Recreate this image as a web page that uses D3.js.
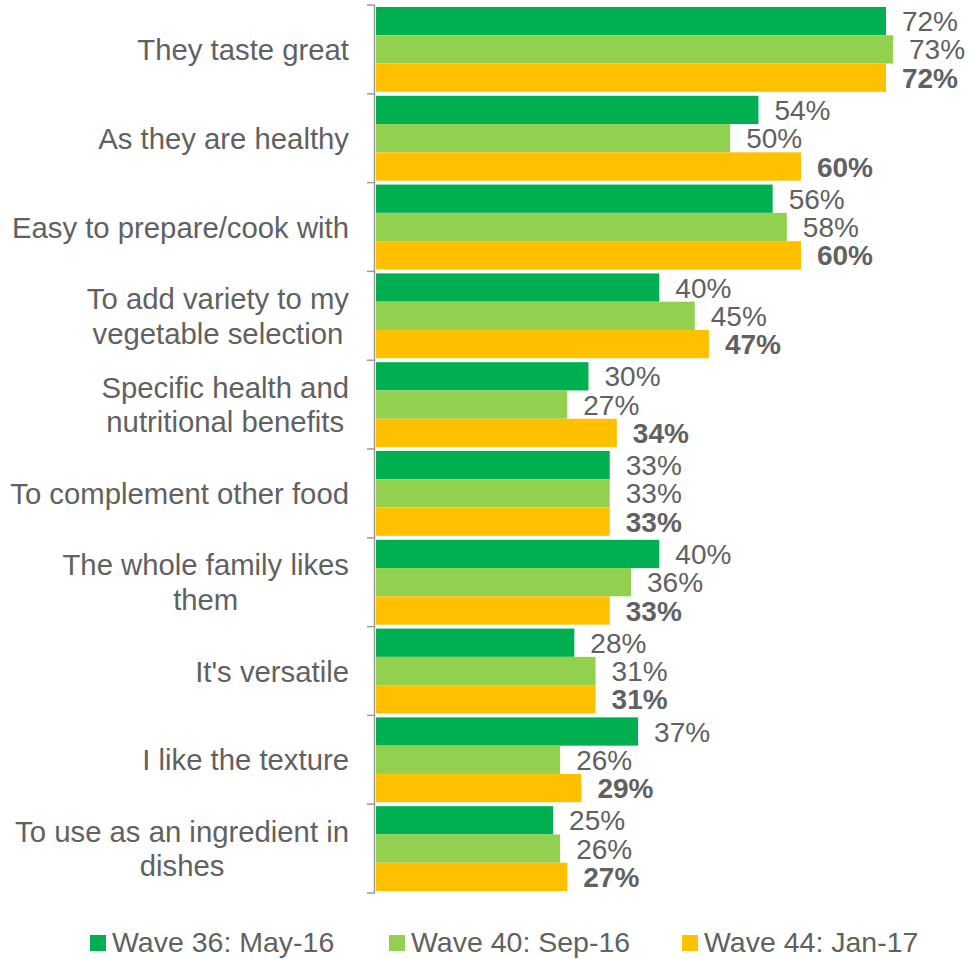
<!DOCTYPE html>
<html>
<head>
<meta charset="utf-8">
<script src="https://cdn.jsdelivr.net/npm/d3@7"></script>
<style>
  body { margin: 0; background: #fff; }
  svg { display: block; font-family: "Liberation Sans", Arial, sans-serif; }
</style>
</head>
<body>
<svg id="chart" width="969" height="959"></svg>
<script>
// Reasons for buying — share of respondents per survey wave
const categories = [
  "They taste great",
  "As they are healthy",
  "Easy to prepare/cook with",
  "To add variety to my vegetable selection",
  "Specific health and nutritional benefits",
  "To complement other food",
  "The whole family likes them",
  "It's versatile",
  "I like the texture",
  "To use as an ingredient in dishes"
];
// wrapped lines for the category labels
const categoryLines = [
  ["They taste great"],
  ["As they are healthy"],
  ["Easy to prepare/cook with"],
  ["To add variety to my", "vegetable selection"],
  ["Specific health and", "nutritional benefits"],
  ["To complement other food"],
  ["The whole family likes", "them"],
  ["It's versatile"],
  ["I like the texture"],
  ["To use as an ingredient in", "dishes"]
];
const seriesNames = ["Wave 36: May-16", "Wave 40: Sep-16", "Wave 44: Jan-17"];
const wave36 = [72, 54, 56, 40, 30, 33, 40, 28, 37, 25];
const wave40 = [73, 50, 58, 45, 27, 33, 36, 31, 26, 26];
const wave44 = [72, 60, 60, 47, 34, 33, 33, 31, 29, 27];
const seriesValues = [wave36, wave40, wave44];
const colors = ["#00B050", "#92D050", "#FFC000"];

const svg = d3.select("#chart");
const textColor = "#616161";

const y = d3.scaleBand().domain(categories).range([5, 893]).padding(0);
const ySub = d3.scaleBand().domain(seriesNames).range([0, y.bandwidth()])
  .paddingInner(0).paddingOuter(0.07);
const x = d3.scaleLinear().domain([0, 100]).range([376, 376 + 708.3]);

// bars with value labels
const groups = svg.append("g").selectAll("g")
  .data(categories)
  .join("g")
  .attr("transform", d => `translate(0,${y(d)})`);

groups.each(function(cat, ci) {
  const g = d3.select(this);
  seriesNames.forEach((s, si) => {
    const v = seriesValues[si][ci];
    g.append("rect")
      .attr("x", x(0))
      .attr("y", ySub(s))
      .attr("width", x(v) - x(0))
      .attr("height", ySub.bandwidth())
      .attr("fill", colors[si]);
    g.append("text")
      .attr("x", x(v) + 16)
      .attr("y", ySub(s) + ySub.bandwidth() / 2)
      .attr("dy", "0.36em")
      .attr("fill", textColor)
      .attr("font-size", 28)
      .attr("font-weight", si === 2 ? "bold" : "normal")
      .text(v + "%");
  });
});

// category axis with ticks at band boundaries
const axisColor = "#9a9a9a";
svg.append("line")
  .attr("x1", 374.5).attr("x2", 374.5)
  .attr("y1", y.range()[0]).attr("y2", y.range()[1])
  .attr("stroke", axisColor).attr("stroke-width", 1.5);
const boundaries = categories.map(c => y(c)).concat([y.range()[1]]);
svg.append("g").selectAll("line")
  .data(boundaries)
  .join("line")
  .attr("x1", 367).attr("x2", 375)
  .attr("y1", d => d).attr("y2", d => d)
  .attr("stroke", axisColor).attr("stroke-width", 1.5);

// category labels: lines centred within a block that is right-aligned to the axis
const lineHeight = 34.5;
const labelRight = 349;
svg.append("g").selectAll("text")
  .data(categories)
  .join("text")
  .attr("text-anchor", "middle")
  .attr("fill", textColor)
  .attr("font-size", 29.3)
  .each(function(c, i) {
    const lines = categoryLines[i];
    const cy = y(c) + y.bandwidth() / 2;
    const t = d3.select(this);
    const spans = lines.map((ln, li) => t.append("tspan")
      .attr("y", cy + (li - (lines.length - 1) / 2) * lineHeight)
      .attr("dy", "0.36em")
      .text(ln));
    const w = d3.max(spans, s => s.node().getComputedTextLength());
    spans.forEach(s => s.attr("x", labelRight - w / 2));
  });

// legend
const legendX = [90, 389, 682];
const legend = svg.append("g").selectAll("g")
  .data(seriesNames)
  .join("g")
  .attr("transform", (d, i) => `translate(${legendX[i]},935)`);
legend.append("rect")
  .attr("width", 16).attr("height", 16)
  .attr("fill", (d, i) => colors[i]);
legend.append("text")
  .attr("x", 22).attr("y", 17)
  .attr("fill", textColor)
  .attr("font-size", 28.5)
  .text(d => d);
</script>
</body>
</html>
